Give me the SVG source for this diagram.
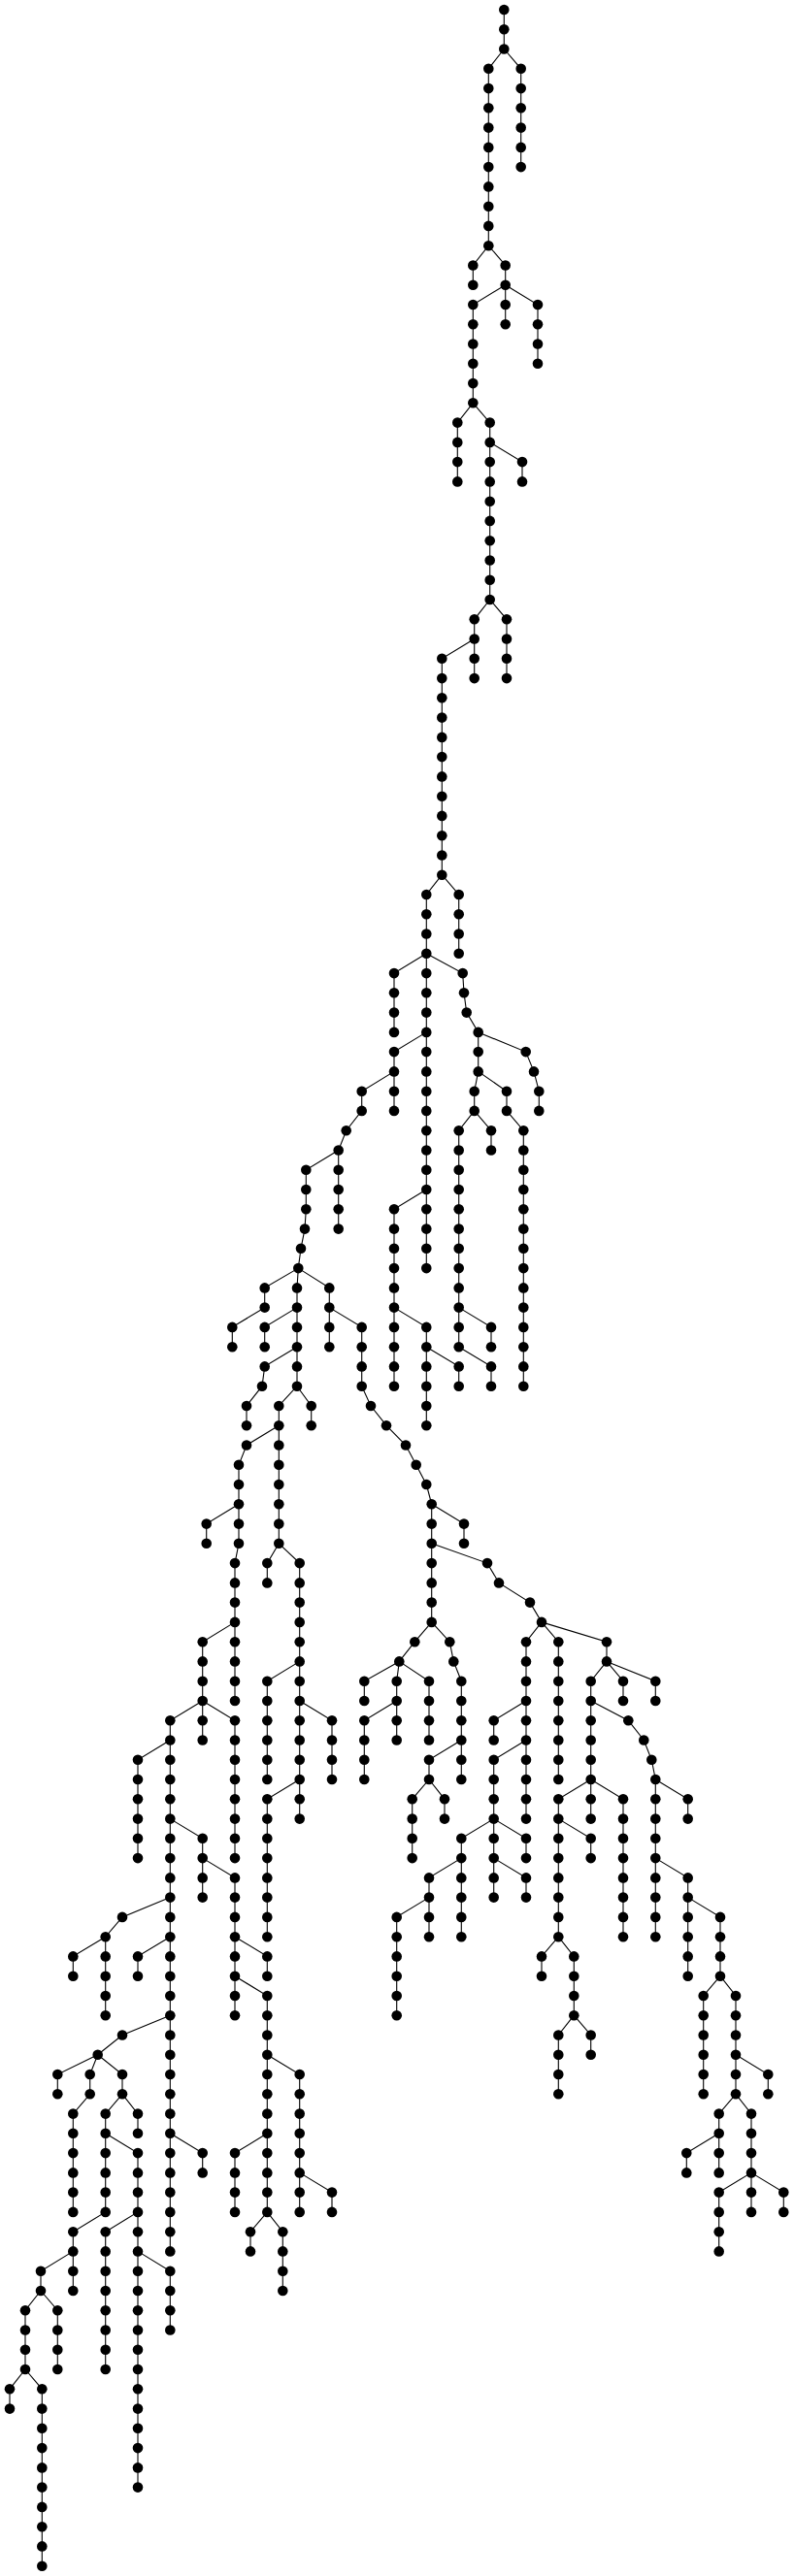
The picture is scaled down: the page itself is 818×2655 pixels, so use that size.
<svg xmlns="http://www.w3.org/2000/svg" width="818" height="2655" viewBox="0 0 818 2655">
<style>
.bg{fill:#fff}
#edges path{fill:none;stroke:#000;stroke-width:1.1}
#nodes circle{fill:#000;r:5.3px}
</style>
<rect class="bg" width="818" height="2655"/>
<g id="edges">
<path d="M519.3 10V50.5"/>
<path d="M519.3 50.5L536.7 70.8V172.1"/>
<path d="M519.3 50.5L503.3 70.8V253.2"/>
<path d="M503.3 253.2L487.3 273.5V293.7"/>
<path d="M503.3 253.2L520.7 273.5V293.7"/>
<path d="M520.7 293.7L487.3 314V415.3"/>
<path d="M520.7 293.7V334.3"/>
<path d="M520.7 293.7L554 314V374.8"/>
<path d="M487.3 415.3L471.3 435.6V496.4"/>
<path d="M487.3 415.3L504.7 435.6V618"/>
<path d="M504.7 455.9L538 476.1V496.4"/>
<path d="M504.7 618L488.7 638.3V699.1"/>
<path d="M504.7 618L522 638.3V699.1"/>
<path d="M488.7 658.5L455.3 678.8V901.7"/>
<path d="M455.3 901.7L439.3 922V982.8"/>
<path d="M455.3 901.7L472.7 922V982.8"/>
<path d="M439.3 982.8L406 1003.1V1063.9"/>
<path d="M439.3 982.8V1307.1"/>
<path d="M439.3 982.8L476.7 1003.1L478 1023.3L480.7 1043.6L492.7 1063.9V1104.4"/>
<path d="M492.7 1063.9L541.7 1084.1L550 1104.4L555.3 1124.7V1144.9"/>
<path d="M492.7 1104.4L488.7 1124.7V1144.9"/>
<path d="M492.7 1104.4L522 1124.7V1144.9"/>
<path d="M522 1144.9L539.3 1165.2V1428.7"/>
<path d="M488.7 1144.9L472.7 1165.2V1388.2"/>
<path d="M488.7 1144.9L506 1165.2V1185.5"/>
<path d="M472.7 1347.6L506 1367.9V1388.2"/>
<path d="M472.7 1388.2L506 1408.4V1428.7"/>
<path d="M439.3 1063.9L406 1084.1V1144.9"/>
<path d="M406 1104.4L372.7 1124.7V1144.9L356.7 1165.2L348.7 1185.5V1266.6"/>
<path d="M348.7 1185.5L315.3 1205.8V1246.3L314 1266.6L310 1286.8L307.3 1307.1"/>
<path d="M439.3 1226L406 1246.3V1428.7"/>
<path d="M406 1347.6L439.3 1367.9V1469.2"/>
<path d="M439.3 1388.2L472.7 1408.4V1428.7"/>
<path d="M307.3 1307.1L306 1327.4V1428.7"/>
<path d="M307.3 1307.1L339.3 1327.4V1388.2"/>
<path d="M339.3 1347.6L372.7 1367.9V1428.7L382 1449L398 1469.2L418 1489.5L428.7 1509.8L439.3 1530L444.7 1550.3V1671.9"/>
<path d="M307.3 1307.1L272.7 1327.4V1347.6L239.3 1367.9V1388.2"/>
<path d="M306 1347.6L272.7 1367.9V1388.2"/>
<path d="M306 1388.2L272.7 1408.4L270 1428.7L254 1449V1469.2"/>
<path d="M306 1428.7L287.3 1449V1590.8"/>
<path d="M306 1428.7L320.7 1449V1469.2"/>
<path d="M287.3 1469.2L254 1489.5L246 1509.8V1590.8L242 1611.1V1753"/>
<path d="M246 1550.3L212.7 1570.6V1590.8"/>
<path d="M287.3 1590.8L275.3 1611.1V1631.4"/>
<path d="M287.3 1590.8L308.7 1611.1V1874.6"/>
<path d="M242 1671.9L208.7 1692.2V1753"/>
<path d="M308.7 1712.4L275.3 1732.7V1834"/>
<path d="M308.7 1753L342 1773.2V1834"/>
<path d="M308.7 1834L275.3 1854.3V1996.2"/>
<path d="M208.7 1753L175.3 1773.2V2320.4"/>
<path d="M208.7 1753V1793.5"/>
<path d="M208.7 1753L242 1773.2V1915.1"/>
<path d="M175.3 1793.5L142 1813.8V1915.1"/>
<path d="M175.3 1874.6L208.7 1894.8V1955.6"/>
<path d="M208.7 1915.1L242 1935.4V2077.2"/>
<path d="M175.3 1955.6L126 1975.9L108.7 1996.2V2077.2"/>
<path d="M108.7 1996.2L75.3 2016.4V2036.7"/>
<path d="M175.3 1996.2L142 2016.4V2036.7"/>
<path d="M242 1996.2L275.3 2016.4V2036.7"/>
<path d="M242 2036.7L275.3 2057V2279.9"/>
<path d="M175.3 2077.2L126 2097.5L100.7 2117.8"/>
<path d="M100.7 2117.8L59.3 2138V2158.3"/>
<path d="M100.7 2117.8L92.7 2138V2158.3"/>
<path d="M100.7 2117.8L126 2138V2158.3"/>
<path d="M92.7 2158.3L75.3 2178.6V2279.9"/>
<path d="M126 2158.3L108.7 2178.6V2279.9"/>
<path d="M126 2158.3L142 2178.6V2198.8"/>
<path d="M108.7 2198.8L142 2219.1V2563.6"/>
<path d="M108.7 2279.9L75.3 2300.2V2361"/>
<path d="M142 2279.9L108.7 2300.2V2442"/>
<path d="M142 2320.4L175.3 2340.7V2401.5"/>
<path d="M75.3 2320.4L42 2340.7V2361"/>
<path d="M42 2361L26 2381.2V2442"/>
<path d="M42 2361L59.3 2381.2V2442"/>
<path d="M26 2442L10 2462.3V2482.6"/>
<path d="M26 2442L43.3 2462.3V2644.7"/>
<path d="M175.3 2198.8L208.7 2219.1V2239.4"/>
<path d="M275.3 2117.8L308.7 2138V2279.9"/>
<path d="M308.7 2239.4L342 2259.6V2279.9"/>
<path d="M275.3 2198.8L242 2219.1V2279.9"/>
<path d="M275.3 2279.9L258 2300.2V2320.4"/>
<path d="M275.3 2279.9L291.3 2300.2V2361"/>
<path d="M444.7 1671.9L427.3 1692.2L411.3 1712.4"/>
<path d="M444.7 1671.9L463.3 1692.2L467.3 1712.4L475.3 1732.7V1834"/>
<path d="M411.3 1712.4L375.3 1732.7V1753"/>
<path d="M411.3 1712.4L408.7 1732.7V1793.5"/>
<path d="M411.3 1712.4L442 1732.7V1793.5"/>
<path d="M408.7 1753L375.3 1773.2V1834"/>
<path d="M475.3 1793.5L442 1813.8V1834"/>
<path d="M442 1834L424.7 1854.3V1915.1"/>
<path d="M442 1834L458 1854.3V1874.6"/>
<path d="M444.7 1550.3L478 1570.6V1590.8"/>
<path d="M444.7 1590.8L502 1611.1L514 1631.4L546 1651.6L558 1671.9"/>
<path d="M558 1671.9L542 1692.2V1874.6"/>
<path d="M558 1671.9L575.3 1692.2V1834"/>
<path d="M558 1671.9L625 1692.2V1712.4"/>
<path d="M542 1753L508.7 1773.2V1793.5"/>
<path d="M542 1793.5L508.7 1813.8V1955.6"/>
<path d="M508.7 1874.6L475.3 1894.8V1996.2"/>
<path d="M508.7 1874.6L542 1894.8V1915.1"/>
<path d="M508.7 1915.1L542 1935.4V1955.6"/>
<path d="M475.3 1915.1L442 1935.4V1996.2"/>
<path d="M442 1955.6L408.7 1975.9V2077.2"/>
<path d="M625 1712.4L608.7 1732.7V1834"/>
<path d="M625 1712.4L642 1732.7V1753"/>
<path d="M625 1712.4L675.3 1732.7V1753"/>
<path d="M608.7 1753L647.3 1773.2L663.3 1793.5L671.3 1813.8L675.3 1834V1996.2"/>
<path d="M675.3 1834L708.7 1854.3V1874.6"/>
<path d="M608.7 1834L575.3 1854.3V1996.2"/>
<path d="M608.7 1834V1874.6"/>
<path d="M608.7 1834L642 1854.3V1996.2"/>
<path d="M575.3 1874.6L608.7 1894.8V1915.1"/>
<path d="M575.3 1996.2L558 2016.4V2036.7"/>
<path d="M575.3 1996.2L591.3 2016.4V2077.2"/>
<path d="M591.3 2077.2L575.3 2097.5V2158.3"/>
<path d="M591.3 2077.2L608.7 2097.5V2117.8"/>
<path d="M675.3 1915.1L708.7 1935.4V2036.7"/>
<path d="M708.7 1955.6L742 1975.9V2036.7"/>
<path d="M742 2036.7L724.7 2057V2158.3"/>
<path d="M742 2036.7L758 2057V2158.3"/>
<path d="M758 2117.8L791.3 2138V2158.3"/>
<path d="M758 2158.3L740.7 2178.6V2239.4"/>
<path d="M758 2158.3L774 2178.6V2239.4"/>
<path d="M740.7 2198.8L707.3 2219.1V2239.4"/>
<path d="M774 2239.4L740.7 2259.6V2320.4"/>
<path d="M774 2239.4V2279.9"/>
<path d="M774 2239.4L807.3 2259.6V2279.9"/>
</g>
<g id="nodes">
<g id="c1r0"><circle cx="519.3" cy="10"/></g><g id="c1r1"><circle cx="519.3" cy="30.3"/></g><g id="c1r2"><circle cx="519.3" cy="50.5"/></g>
<g id="c2r3"><circle cx="536.7" cy="70.8"/></g><g id="c2r4"><circle cx="536.7" cy="91.1"/></g><g id="c2r5"><circle cx="536.7" cy="111.3"/></g><g id="c2r6"><circle cx="536.7" cy="131.6"/></g><g id="c2r7"><circle cx="536.7" cy="151.9"/></g><g id="c2r8"><circle cx="536.7" cy="172.1"/></g>
<g id="c3r3"><circle cx="503.3" cy="70.8"/></g><g id="c3r4"><circle cx="503.3" cy="91.1"/></g><g id="c3r5"><circle cx="503.3" cy="111.3"/></g><g id="c3r6"><circle cx="503.3" cy="131.6"/></g><g id="c3r7"><circle cx="503.3" cy="151.9"/></g><g id="c3r8"><circle cx="503.3" cy="172.1"/></g><g id="c3r9"><circle cx="503.3" cy="192.4"/></g><g id="c3r10"><circle cx="503.3" cy="212.7"/></g><g id="c3r11"><circle cx="503.3" cy="232.9"/></g><g id="c3r12"><circle cx="503.3" cy="253.2"/></g>
<g id="c4r13"><circle cx="487.3" cy="273.5"/></g><g id="c4r14"><circle cx="487.3" cy="293.7"/></g>
<g id="c5r13"><circle cx="520.7" cy="273.5"/></g><g id="c5r14"><circle cx="520.7" cy="293.7"/></g>
<g id="c6r15"><circle cx="487.3" cy="314"/></g><g id="c6r16"><circle cx="487.3" cy="334.3"/></g><g id="c6r17"><circle cx="487.3" cy="354.5"/></g><g id="c6r18"><circle cx="487.3" cy="374.8"/></g><g id="c6r19"><circle cx="487.3" cy="395.1"/></g><g id="c6r20"><circle cx="487.3" cy="415.3"/></g>
<g id="c7r15"><circle cx="520.7" cy="314"/></g><g id="c7r16"><circle cx="520.7" cy="334.3"/></g>
<g id="c8r15"><circle cx="554" cy="314"/></g><g id="c8r16"><circle cx="554" cy="334.3"/></g><g id="c8r17"><circle cx="554" cy="354.5"/></g><g id="c8r18"><circle cx="554" cy="374.8"/></g>
<g id="c9r21"><circle cx="471.3" cy="435.6"/></g><g id="c9r22"><circle cx="471.3" cy="455.9"/></g><g id="c9r23"><circle cx="471.3" cy="476.1"/></g><g id="c9r24"><circle cx="471.3" cy="496.4"/></g>
<g id="c10r21"><circle cx="504.7" cy="435.6"/></g><g id="c10r22"><circle cx="504.7" cy="455.9"/></g><g id="c10r23"><circle cx="504.7" cy="476.1"/></g><g id="c10r24"><circle cx="504.7" cy="496.4"/></g><g id="c10r25"><circle cx="504.7" cy="516.7"/></g><g id="c10r26"><circle cx="504.7" cy="536.9"/></g><g id="c10r27"><circle cx="504.7" cy="557.2"/></g><g id="c10r28"><circle cx="504.7" cy="577.5"/></g><g id="c10r29"><circle cx="504.7" cy="597.7"/></g><g id="c10r30"><circle cx="504.7" cy="618"/></g>
<g id="c11r23"><circle cx="538" cy="476.1"/></g><g id="c11r24"><circle cx="538" cy="496.4"/></g>
<g id="c12r31"><circle cx="488.7" cy="638.3"/></g><g id="c12r32"><circle cx="488.7" cy="658.5"/></g><g id="c12r33"><circle cx="488.7" cy="678.8"/></g><g id="c12r34"><circle cx="488.7" cy="699.1"/></g>
<g id="c13r31"><circle cx="522" cy="638.3"/></g><g id="c13r32"><circle cx="522" cy="658.5"/></g><g id="c13r33"><circle cx="522" cy="678.8"/></g><g id="c13r34"><circle cx="522" cy="699.1"/></g>
<g id="c14r33"><circle cx="455.3" cy="678.8"/></g><g id="c14r34"><circle cx="455.3" cy="699.1"/></g><g id="c14r35"><circle cx="455.3" cy="719.3"/></g><g id="c14r36"><circle cx="455.3" cy="739.6"/></g><g id="c14r37"><circle cx="455.3" cy="759.9"/></g><g id="c14r38"><circle cx="455.3" cy="780.1"/></g><g id="c14r39"><circle cx="455.3" cy="800.4"/></g><g id="c14r40"><circle cx="455.3" cy="820.7"/></g><g id="c14r41"><circle cx="455.3" cy="840.9"/></g><g id="c14r42"><circle cx="455.3" cy="861.2"/></g><g id="c14r43"><circle cx="455.3" cy="881.5"/></g><g id="c14r44"><circle cx="455.3" cy="901.7"/></g>
<g id="c15r45"><circle cx="439.3" cy="922"/></g><g id="c15r46"><circle cx="439.3" cy="942.3"/></g><g id="c15r47"><circle cx="439.3" cy="962.5"/></g><g id="c15r48"><circle cx="439.3" cy="982.8"/></g>
<g id="c16r45"><circle cx="472.7" cy="922"/></g><g id="c16r46"><circle cx="472.7" cy="942.3"/></g><g id="c16r47"><circle cx="472.7" cy="962.5"/></g><g id="c16r48"><circle cx="472.7" cy="982.8"/></g>
<g id="c17r49"><circle cx="406" cy="1003.1"/></g><g id="c17r50"><circle cx="406" cy="1023.3"/></g><g id="c17r51"><circle cx="406" cy="1043.6"/></g><g id="c17r52"><circle cx="406" cy="1063.9"/></g>
<g id="c18r49"><circle cx="439.3" cy="1003.1"/></g><g id="c18r50"><circle cx="439.3" cy="1023.3"/></g><g id="c18r51"><circle cx="439.3" cy="1043.6"/></g><g id="c18r52"><circle cx="439.3" cy="1063.9"/></g><g id="c18r53"><circle cx="439.3" cy="1084.1"/></g><g id="c18r54"><circle cx="439.3" cy="1104.4"/></g><g id="c18r55"><circle cx="439.3" cy="1124.7"/></g><g id="c18r56"><circle cx="439.3" cy="1144.9"/></g><g id="c18r57"><circle cx="439.3" cy="1165.2"/></g><g id="c18r58"><circle cx="439.3" cy="1185.5"/></g><g id="c18r59"><circle cx="439.3" cy="1205.8"/></g><g id="c18r60"><circle cx="439.3" cy="1226"/></g><g id="c18r61"><circle cx="439.3" cy="1246.3"/></g><g id="c18r62"><circle cx="439.3" cy="1266.6"/></g><g id="c18r63"><circle cx="439.3" cy="1286.8"/></g><g id="c18r64"><circle cx="439.3" cy="1307.1"/></g>
<g id="c19r49"><circle cx="476.7" cy="1003.1"/></g><g id="c19r50"><circle cx="478" cy="1023.3"/></g><g id="c19r51"><circle cx="480.7" cy="1043.6"/></g><g id="c19r52"><circle cx="492.7" cy="1063.9"/></g><g id="c19r53"><circle cx="492.7" cy="1084.1"/></g><g id="c19r54"><circle cx="492.7" cy="1104.4"/></g>
<g id="c20r53"><circle cx="541.7" cy="1084.1"/></g><g id="c20r54"><circle cx="550" cy="1104.4"/></g><g id="c20r55"><circle cx="555.3" cy="1124.7"/></g><g id="c20r56"><circle cx="555.3" cy="1144.9"/></g>
<g id="c21r55"><circle cx="488.7" cy="1124.7"/></g><g id="c21r56"><circle cx="488.7" cy="1144.9"/></g>
<g id="c22r55"><circle cx="522" cy="1124.7"/></g><g id="c22r56"><circle cx="522" cy="1144.9"/></g>
<g id="c23r57"><circle cx="539.3" cy="1165.2"/></g><g id="c23r58"><circle cx="539.3" cy="1185.5"/></g><g id="c23r59"><circle cx="539.3" cy="1205.8"/></g><g id="c23r60"><circle cx="539.3" cy="1226"/></g><g id="c23r61"><circle cx="539.3" cy="1246.3"/></g><g id="c23r62"><circle cx="539.3" cy="1266.6"/></g><g id="c23r63"><circle cx="539.3" cy="1286.8"/></g><g id="c23r64"><circle cx="539.3" cy="1307.1"/></g><g id="c23r65"><circle cx="539.3" cy="1327.4"/></g><g id="c23r66"><circle cx="539.3" cy="1347.6"/></g><g id="c23r67"><circle cx="539.3" cy="1367.9"/></g><g id="c23r68"><circle cx="539.3" cy="1388.2"/></g><g id="c23r69"><circle cx="539.3" cy="1408.4"/></g><g id="c23r70"><circle cx="539.3" cy="1428.7"/></g>
<g id="c24r57"><circle cx="472.7" cy="1165.2"/></g><g id="c24r58"><circle cx="472.7" cy="1185.5"/></g><g id="c24r59"><circle cx="472.7" cy="1205.8"/></g><g id="c24r60"><circle cx="472.7" cy="1226"/></g><g id="c24r61"><circle cx="472.7" cy="1246.3"/></g><g id="c24r62"><circle cx="472.7" cy="1266.6"/></g><g id="c24r63"><circle cx="472.7" cy="1286.8"/></g><g id="c24r64"><circle cx="472.7" cy="1307.1"/></g><g id="c24r65"><circle cx="472.7" cy="1327.4"/></g><g id="c24r66"><circle cx="472.7" cy="1347.6"/></g><g id="c24r67"><circle cx="472.7" cy="1367.9"/></g><g id="c24r68"><circle cx="472.7" cy="1388.2"/></g>
<g id="c25r57"><circle cx="506" cy="1165.2"/></g><g id="c25r58"><circle cx="506" cy="1185.5"/></g>
<g id="c26r67"><circle cx="506" cy="1367.9"/></g><g id="c26r68"><circle cx="506" cy="1388.2"/></g>
<g id="c27r69"><circle cx="506" cy="1408.4"/></g><g id="c27r70"><circle cx="506" cy="1428.7"/></g>
<g id="c28r53"><circle cx="406" cy="1084.1"/></g><g id="c28r54"><circle cx="406" cy="1104.4"/></g><g id="c28r55"><circle cx="406" cy="1124.7"/></g><g id="c28r56"><circle cx="406" cy="1144.9"/></g>
<g id="c29r55"><circle cx="372.7" cy="1124.7"/></g><g id="c29r56"><circle cx="372.7" cy="1144.9"/></g><g id="c29r57"><circle cx="356.7" cy="1165.2"/></g><g id="c29r58"><circle cx="348.7" cy="1185.5"/></g><g id="c29r59"><circle cx="348.7" cy="1205.8"/></g><g id="c29r60"><circle cx="348.7" cy="1226"/></g><g id="c29r61"><circle cx="348.7" cy="1246.3"/></g><g id="c29r62"><circle cx="348.7" cy="1266.6"/></g>
<g id="c30r59"><circle cx="315.3" cy="1205.8"/></g><g id="c30r60"><circle cx="315.3" cy="1226"/></g><g id="c30r61"><circle cx="315.3" cy="1246.3"/></g><g id="c30r62"><circle cx="314" cy="1266.6"/></g><g id="c30r63"><circle cx="310" cy="1286.8"/></g><g id="c30r64"><circle cx="307.3" cy="1307.1"/></g>
<g id="c31r61"><circle cx="406" cy="1246.3"/></g><g id="c31r62"><circle cx="406" cy="1266.6"/></g><g id="c31r63"><circle cx="406" cy="1286.8"/></g><g id="c31r64"><circle cx="406" cy="1307.1"/></g><g id="c31r65"><circle cx="406" cy="1327.4"/></g><g id="c31r66"><circle cx="406" cy="1347.6"/></g><g id="c31r67"><circle cx="406" cy="1367.9"/></g><g id="c31r68"><circle cx="406" cy="1388.2"/></g><g id="c31r69"><circle cx="406" cy="1408.4"/></g><g id="c31r70"><circle cx="406" cy="1428.7"/></g>
<g id="c32r67"><circle cx="439.3" cy="1367.9"/></g><g id="c32r68"><circle cx="439.3" cy="1388.2"/></g><g id="c32r69"><circle cx="439.3" cy="1408.4"/></g><g id="c32r70"><circle cx="439.3" cy="1428.7"/></g><g id="c32r71"><circle cx="439.3" cy="1449"/></g><g id="c32r72"><circle cx="439.3" cy="1469.2"/></g>
<g id="c33r69"><circle cx="472.7" cy="1408.4"/></g><g id="c33r70"><circle cx="472.7" cy="1428.7"/></g>
<g id="c34r65"><circle cx="306" cy="1327.4"/></g><g id="c34r66"><circle cx="306" cy="1347.6"/></g><g id="c34r67"><circle cx="306" cy="1367.9"/></g><g id="c34r68"><circle cx="306" cy="1388.2"/></g><g id="c34r69"><circle cx="306" cy="1408.4"/></g><g id="c34r70"><circle cx="306" cy="1428.7"/></g>
<g id="c35r65"><circle cx="339.3" cy="1327.4"/></g><g id="c35r66"><circle cx="339.3" cy="1347.6"/></g><g id="c35r67"><circle cx="339.3" cy="1367.9"/></g><g id="c35r68"><circle cx="339.3" cy="1388.2"/></g>
<g id="c36r67"><circle cx="372.7" cy="1367.9"/></g><g id="c36r68"><circle cx="372.7" cy="1388.2"/></g><g id="c36r69"><circle cx="372.7" cy="1408.4"/></g><g id="c36r70"><circle cx="372.7" cy="1428.7"/></g><g id="c36r71"><circle cx="382" cy="1449"/></g><g id="c36r72"><circle cx="398" cy="1469.2"/></g><g id="c36r73"><circle cx="418" cy="1489.5"/></g><g id="c36r74"><circle cx="428.7" cy="1509.8"/></g><g id="c36r75"><circle cx="439.3" cy="1530"/></g><g id="c36r76"><circle cx="444.7" cy="1550.3"/></g><g id="c36r77"><circle cx="444.7" cy="1570.6"/></g><g id="c36r78"><circle cx="444.7" cy="1590.8"/></g><g id="c36r79"><circle cx="444.7" cy="1611.1"/></g><g id="c36r80"><circle cx="444.7" cy="1631.4"/></g><g id="c36r81"><circle cx="444.7" cy="1651.6"/></g><g id="c36r82"><circle cx="444.7" cy="1671.9"/></g>
<g id="c37r65"><circle cx="272.7" cy="1327.4"/></g><g id="c37r66"><circle cx="272.7" cy="1347.6"/></g><g id="c38r67"><circle cx="239.3" cy="1367.9"/></g><g id="c38r68"><circle cx="239.3" cy="1388.2"/></g>
<g id="c39r67"><circle cx="272.7" cy="1367.9"/></g><g id="c39r68"><circle cx="272.7" cy="1388.2"/></g>
<g id="c40r69"><circle cx="272.7" cy="1408.4"/></g><g id="c40r70"><circle cx="270" cy="1428.7"/></g><g id="c40r71"><circle cx="254" cy="1449"/></g><g id="c40r72"><circle cx="254" cy="1469.2"/></g>
<g id="c41r71"><circle cx="287.3" cy="1449"/></g><g id="c41r72"><circle cx="287.3" cy="1469.2"/></g><g id="c41r73"><circle cx="287.3" cy="1489.5"/></g><g id="c41r74"><circle cx="287.3" cy="1509.8"/></g><g id="c41r75"><circle cx="287.3" cy="1530"/></g><g id="c41r76"><circle cx="287.3" cy="1550.3"/></g><g id="c41r77"><circle cx="287.3" cy="1570.6"/></g><g id="c41r78"><circle cx="287.3" cy="1590.8"/></g>
<g id="c42r71"><circle cx="320.7" cy="1449"/></g><g id="c42r72"><circle cx="320.7" cy="1469.2"/></g>
<g id="c43r73"><circle cx="254" cy="1489.5"/></g><g id="c43r74"><circle cx="246" cy="1509.8"/></g><g id="c43r75"><circle cx="246" cy="1530"/></g><g id="c43r76"><circle cx="246" cy="1550.3"/></g><g id="c43r77"><circle cx="246" cy="1570.6"/></g><g id="c43r78"><circle cx="246" cy="1590.8"/></g><g id="c43r79"><circle cx="242" cy="1611.1"/></g><g id="c43r80"><circle cx="242" cy="1631.4"/></g><g id="c43r81"><circle cx="242" cy="1651.6"/></g><g id="c43r82"><circle cx="242" cy="1671.9"/></g><g id="c43r83"><circle cx="242" cy="1692.2"/></g><g id="c43r84"><circle cx="242" cy="1712.4"/></g><g id="c43r85"><circle cx="242" cy="1732.7"/></g><g id="c43r86"><circle cx="242" cy="1753"/></g>
<g id="c44r77"><circle cx="212.7" cy="1570.6"/></g><g id="c44r78"><circle cx="212.7" cy="1590.8"/></g>
<g id="c45r79"><circle cx="275.3" cy="1611.1"/></g><g id="c45r80"><circle cx="275.3" cy="1631.4"/></g>
<g id="c46r79"><circle cx="308.7" cy="1611.1"/></g><g id="c46r80"><circle cx="308.7" cy="1631.4"/></g><g id="c46r81"><circle cx="308.7" cy="1651.6"/></g><g id="c46r82"><circle cx="308.7" cy="1671.9"/></g><g id="c46r83"><circle cx="308.7" cy="1692.2"/></g><g id="c46r84"><circle cx="308.7" cy="1712.4"/></g><g id="c46r85"><circle cx="308.7" cy="1732.7"/></g><g id="c46r86"><circle cx="308.7" cy="1753"/></g><g id="c46r87"><circle cx="308.7" cy="1773.2"/></g><g id="c46r88"><circle cx="308.7" cy="1793.5"/></g><g id="c46r89"><circle cx="308.7" cy="1813.8"/></g><g id="c46r90"><circle cx="308.7" cy="1834"/></g><g id="c46r91"><circle cx="308.7" cy="1854.3"/></g><g id="c46r92"><circle cx="308.7" cy="1874.6"/></g>
<g id="c47r83"><circle cx="208.7" cy="1692.2"/></g><g id="c47r84"><circle cx="208.7" cy="1712.4"/></g><g id="c47r85"><circle cx="208.7" cy="1732.7"/></g><g id="c47r86"><circle cx="208.7" cy="1753"/></g>
<g id="c48r85"><circle cx="275.3" cy="1732.7"/></g><g id="c48r86"><circle cx="275.3" cy="1753"/></g><g id="c48r87"><circle cx="275.3" cy="1773.2"/></g><g id="c48r88"><circle cx="275.3" cy="1793.5"/></g><g id="c48r89"><circle cx="275.3" cy="1813.8"/></g><g id="c48r90"><circle cx="275.3" cy="1834"/></g>
<g id="c49r87"><circle cx="342" cy="1773.2"/></g><g id="c49r88"><circle cx="342" cy="1793.5"/></g><g id="c49r89"><circle cx="342" cy="1813.8"/></g><g id="c49r90"><circle cx="342" cy="1834"/></g>
<g id="c50r91"><circle cx="275.3" cy="1854.3"/></g><g id="c50r92"><circle cx="275.3" cy="1874.6"/></g><g id="c50r93"><circle cx="275.3" cy="1894.8"/></g><g id="c50r94"><circle cx="275.3" cy="1915.1"/></g><g id="c50r95"><circle cx="275.3" cy="1935.4"/></g><g id="c50r96"><circle cx="275.3" cy="1955.6"/></g><g id="c50r97"><circle cx="275.3" cy="1975.9"/></g><g id="c50r98"><circle cx="275.3" cy="1996.2"/></g>
<g id="c51r87"><circle cx="175.3" cy="1773.2"/></g><g id="c51r88"><circle cx="175.3" cy="1793.5"/></g><g id="c51r89"><circle cx="175.3" cy="1813.8"/></g><g id="c51r90"><circle cx="175.3" cy="1834"/></g><g id="c51r91"><circle cx="175.3" cy="1854.3"/></g><g id="c51r92"><circle cx="175.3" cy="1874.6"/></g><g id="c51r93"><circle cx="175.3" cy="1894.8"/></g><g id="c51r94"><circle cx="175.3" cy="1915.1"/></g><g id="c51r95"><circle cx="175.3" cy="1935.4"/></g><g id="c51r96"><circle cx="175.3" cy="1955.6"/></g><g id="c51r97"><circle cx="175.3" cy="1975.9"/></g><g id="c51r98"><circle cx="175.3" cy="1996.2"/></g><g id="c51r99"><circle cx="175.3" cy="2016.4"/></g><g id="c51r100"><circle cx="175.3" cy="2036.7"/></g><g id="c51r101"><circle cx="175.3" cy="2057"/></g><g id="c51r102"><circle cx="175.3" cy="2077.2"/></g><g id="c51r103"><circle cx="175.3" cy="2097.5"/></g><g id="c51r104"><circle cx="175.3" cy="2117.8"/></g><g id="c51r105"><circle cx="175.3" cy="2138"/></g><g id="c51r106"><circle cx="175.3" cy="2158.3"/></g><g id="c51r107"><circle cx="175.3" cy="2178.6"/></g><g id="c51r108"><circle cx="175.3" cy="2198.8"/></g><g id="c51r109"><circle cx="175.3" cy="2219.1"/></g><g id="c51r110"><circle cx="175.3" cy="2239.4"/></g><g id="c51r111"><circle cx="175.3" cy="2259.6"/></g><g id="c51r112"><circle cx="175.3" cy="2279.9"/></g><g id="c51r113"><circle cx="175.3" cy="2300.2"/></g><g id="c51r114"><circle cx="175.3" cy="2320.4"/></g>
<g id="c52r87"><circle cx="208.7" cy="1773.2"/></g><g id="c52r88"><circle cx="208.7" cy="1793.5"/></g>
<g id="c53r87"><circle cx="242" cy="1773.2"/></g><g id="c53r88"><circle cx="242" cy="1793.5"/></g><g id="c53r89"><circle cx="242" cy="1813.8"/></g><g id="c53r90"><circle cx="242" cy="1834"/></g><g id="c53r91"><circle cx="242" cy="1854.3"/></g><g id="c53r92"><circle cx="242" cy="1874.6"/></g><g id="c53r93"><circle cx="242" cy="1894.8"/></g><g id="c53r94"><circle cx="242" cy="1915.1"/></g>
<g id="c54r89"><circle cx="142" cy="1813.8"/></g><g id="c54r90"><circle cx="142" cy="1834"/></g><g id="c54r91"><circle cx="142" cy="1854.3"/></g><g id="c54r92"><circle cx="142" cy="1874.6"/></g><g id="c54r93"><circle cx="142" cy="1894.8"/></g><g id="c54r94"><circle cx="142" cy="1915.1"/></g>
<g id="c55r93"><circle cx="208.7" cy="1894.8"/></g><g id="c55r94"><circle cx="208.7" cy="1915.1"/></g><g id="c55r95"><circle cx="208.7" cy="1935.4"/></g><g id="c55r96"><circle cx="208.7" cy="1955.6"/></g>
<g id="c56r95"><circle cx="242" cy="1935.4"/></g><g id="c56r96"><circle cx="242" cy="1955.6"/></g><g id="c56r97"><circle cx="242" cy="1975.9"/></g><g id="c56r98"><circle cx="242" cy="1996.2"/></g><g id="c56r99"><circle cx="242" cy="2016.4"/></g><g id="c56r100"><circle cx="242" cy="2036.7"/></g><g id="c56r101"><circle cx="242" cy="2057"/></g><g id="c56r102"><circle cx="242" cy="2077.2"/></g>
<g id="c57r97"><circle cx="126" cy="1975.9"/></g><g id="c57r98"><circle cx="108.7" cy="1996.2"/></g><g id="c57r99"><circle cx="108.7" cy="2016.4"/></g><g id="c57r100"><circle cx="108.7" cy="2036.7"/></g><g id="c57r101"><circle cx="108.7" cy="2057"/></g><g id="c57r102"><circle cx="108.7" cy="2077.2"/></g>
<g id="c58r99"><circle cx="75.3" cy="2016.4"/></g><g id="c58r100"><circle cx="75.3" cy="2036.7"/></g>
<g id="c59r99"><circle cx="142" cy="2016.4"/></g><g id="c59r100"><circle cx="142" cy="2036.7"/></g>
<g id="c60r99"><circle cx="275.3" cy="2016.4"/></g><g id="c60r100"><circle cx="275.3" cy="2036.7"/></g>
<g id="c61r101"><circle cx="275.3" cy="2057"/></g><g id="c61r102"><circle cx="275.3" cy="2077.2"/></g><g id="c61r103"><circle cx="275.3" cy="2097.5"/></g><g id="c61r104"><circle cx="275.3" cy="2117.8"/></g><g id="c61r105"><circle cx="275.3" cy="2138"/></g><g id="c61r106"><circle cx="275.3" cy="2158.3"/></g><g id="c61r107"><circle cx="275.3" cy="2178.6"/></g><g id="c61r108"><circle cx="275.3" cy="2198.8"/></g><g id="c61r109"><circle cx="275.3" cy="2219.1"/></g><g id="c61r110"><circle cx="275.3" cy="2239.4"/></g><g id="c61r111"><circle cx="275.3" cy="2259.6"/></g><g id="c61r112"><circle cx="275.3" cy="2279.9"/></g>
<g id="c62r103"><circle cx="126" cy="2097.5"/></g><g id="c62r104"><circle cx="100.7" cy="2117.8"/></g>
<g id="c64r105"><circle cx="59.3" cy="2138"/></g><g id="c64r106"><circle cx="59.3" cy="2158.3"/></g>
<g id="c65r105"><circle cx="92.7" cy="2138"/></g><g id="c65r106"><circle cx="92.7" cy="2158.3"/></g>
<g id="c66r105"><circle cx="126" cy="2138"/></g><g id="c66r106"><circle cx="126" cy="2158.3"/></g>
<g id="c67r107"><circle cx="75.3" cy="2178.6"/></g><g id="c67r108"><circle cx="75.3" cy="2198.8"/></g><g id="c67r109"><circle cx="75.3" cy="2219.1"/></g><g id="c67r110"><circle cx="75.3" cy="2239.4"/></g><g id="c67r111"><circle cx="75.3" cy="2259.6"/></g><g id="c67r112"><circle cx="75.3" cy="2279.9"/></g>
<g id="c68r107"><circle cx="108.7" cy="2178.6"/></g><g id="c68r108"><circle cx="108.7" cy="2198.8"/></g><g id="c68r109"><circle cx="108.7" cy="2219.1"/></g><g id="c68r110"><circle cx="108.7" cy="2239.4"/></g><g id="c68r111"><circle cx="108.7" cy="2259.6"/></g><g id="c68r112"><circle cx="108.7" cy="2279.9"/></g>
<g id="c69r107"><circle cx="142" cy="2178.6"/></g><g id="c69r108"><circle cx="142" cy="2198.8"/></g>
<g id="c70r109"><circle cx="142" cy="2219.1"/></g><g id="c70r110"><circle cx="142" cy="2239.4"/></g><g id="c70r111"><circle cx="142" cy="2259.6"/></g><g id="c70r112"><circle cx="142" cy="2279.9"/></g><g id="c70r113"><circle cx="142" cy="2300.2"/></g><g id="c70r114"><circle cx="142" cy="2320.4"/></g><g id="c70r115"><circle cx="142" cy="2340.7"/></g><g id="c70r116"><circle cx="142" cy="2361"/></g><g id="c70r117"><circle cx="142" cy="2381.2"/></g><g id="c70r118"><circle cx="142" cy="2401.5"/></g><g id="c70r119"><circle cx="142" cy="2421.8"/></g><g id="c70r120"><circle cx="142" cy="2442"/></g><g id="c70r121"><circle cx="142" cy="2462.3"/></g><g id="c70r122"><circle cx="142" cy="2482.6"/></g><g id="c70r123"><circle cx="142" cy="2502.8"/></g><g id="c70r124"><circle cx="142" cy="2523.1"/></g><g id="c70r125"><circle cx="142" cy="2543.4"/></g><g id="c70r126"><circle cx="142" cy="2563.6"/></g>
<g id="c71r113"><circle cx="75.3" cy="2300.2"/></g><g id="c71r114"><circle cx="75.3" cy="2320.4"/></g><g id="c71r115"><circle cx="75.3" cy="2340.7"/></g><g id="c71r116"><circle cx="75.3" cy="2361"/></g>
<g id="c72r113"><circle cx="108.7" cy="2300.2"/></g><g id="c72r114"><circle cx="108.7" cy="2320.4"/></g><g id="c72r115"><circle cx="108.7" cy="2340.7"/></g><g id="c72r116"><circle cx="108.7" cy="2361"/></g><g id="c72r117"><circle cx="108.7" cy="2381.2"/></g><g id="c72r118"><circle cx="108.7" cy="2401.5"/></g><g id="c72r119"><circle cx="108.7" cy="2421.8"/></g><g id="c72r120"><circle cx="108.7" cy="2442"/></g>
<g id="c73r115"><circle cx="175.3" cy="2340.7"/></g><g id="c73r116"><circle cx="175.3" cy="2361"/></g><g id="c73r117"><circle cx="175.3" cy="2381.2"/></g><g id="c73r118"><circle cx="175.3" cy="2401.5"/></g>
<g id="c74r115"><circle cx="42" cy="2340.7"/></g><g id="c74r116"><circle cx="42" cy="2361"/></g>
<g id="c75r117"><circle cx="26" cy="2381.2"/></g><g id="c75r118"><circle cx="26" cy="2401.5"/></g><g id="c75r119"><circle cx="26" cy="2421.8"/></g><g id="c75r120"><circle cx="26" cy="2442"/></g>
<g id="c76r117"><circle cx="59.3" cy="2381.2"/></g><g id="c76r118"><circle cx="59.3" cy="2401.5"/></g><g id="c76r119"><circle cx="59.3" cy="2421.8"/></g><g id="c76r120"><circle cx="59.3" cy="2442"/></g>
<g id="c77r121"><circle cx="10" cy="2462.3"/></g><g id="c77r122"><circle cx="10" cy="2482.6"/></g>
<g id="c78r121"><circle cx="43.3" cy="2462.3"/></g><g id="c78r122"><circle cx="43.3" cy="2482.6"/></g><g id="c78r123"><circle cx="43.3" cy="2502.8"/></g><g id="c78r124"><circle cx="43.3" cy="2523.1"/></g><g id="c78r125"><circle cx="43.3" cy="2543.4"/></g><g id="c78r126"><circle cx="43.3" cy="2563.6"/></g><g id="c78r127"><circle cx="43.3" cy="2583.9"/></g><g id="c78r128"><circle cx="43.3" cy="2604.2"/></g><g id="c78r129"><circle cx="43.3" cy="2624.4"/></g><g id="c78r130"><circle cx="43.3" cy="2644.7"/></g>
<g id="c79r109"><circle cx="208.7" cy="2219.1"/></g><g id="c79r110"><circle cx="208.7" cy="2239.4"/></g>
<g id="c80r105"><circle cx="308.7" cy="2138"/></g><g id="c80r106"><circle cx="308.7" cy="2158.3"/></g><g id="c80r107"><circle cx="308.7" cy="2178.6"/></g><g id="c80r108"><circle cx="308.7" cy="2198.8"/></g><g id="c80r109"><circle cx="308.7" cy="2219.1"/></g><g id="c80r110"><circle cx="308.7" cy="2239.4"/></g><g id="c80r111"><circle cx="308.7" cy="2259.6"/></g><g id="c80r112"><circle cx="308.7" cy="2279.9"/></g>
<g id="c81r111"><circle cx="342" cy="2259.6"/></g><g id="c81r112"><circle cx="342" cy="2279.9"/></g>
<g id="c82r109"><circle cx="242" cy="2219.1"/></g><g id="c82r110"><circle cx="242" cy="2239.4"/></g><g id="c82r111"><circle cx="242" cy="2259.6"/></g><g id="c82r112"><circle cx="242" cy="2279.9"/></g>
<g id="c83r113"><circle cx="258" cy="2300.2"/></g><g id="c83r114"><circle cx="258" cy="2320.4"/></g>
<g id="c84r113"><circle cx="291.3" cy="2300.2"/></g><g id="c84r114"><circle cx="291.3" cy="2320.4"/></g><g id="c84r115"><circle cx="291.3" cy="2340.7"/></g><g id="c84r116"><circle cx="291.3" cy="2361"/></g>
<g id="c85r83"><circle cx="427.3" cy="1692.2"/></g><g id="c85r84"><circle cx="411.3" cy="1712.4"/></g>
<g id="c86r83"><circle cx="463.3" cy="1692.2"/></g><g id="c86r84"><circle cx="467.3" cy="1712.4"/></g><g id="c86r85"><circle cx="475.3" cy="1732.7"/></g><g id="c86r86"><circle cx="475.3" cy="1753"/></g><g id="c86r87"><circle cx="475.3" cy="1773.2"/></g><g id="c86r88"><circle cx="475.3" cy="1793.5"/></g><g id="c86r89"><circle cx="475.3" cy="1813.8"/></g><g id="c86r90"><circle cx="475.3" cy="1834"/></g>
<g id="c87r85"><circle cx="375.3" cy="1732.7"/></g><g id="c87r86"><circle cx="375.3" cy="1753"/></g>
<g id="c88r85"><circle cx="408.7" cy="1732.7"/></g><g id="c88r86"><circle cx="408.7" cy="1753"/></g><g id="c88r87"><circle cx="408.7" cy="1773.2"/></g><g id="c88r88"><circle cx="408.7" cy="1793.5"/></g>
<g id="c89r85"><circle cx="442" cy="1732.7"/></g><g id="c89r86"><circle cx="442" cy="1753"/></g><g id="c89r87"><circle cx="442" cy="1773.2"/></g><g id="c89r88"><circle cx="442" cy="1793.5"/></g>
<g id="c90r87"><circle cx="375.3" cy="1773.2"/></g><g id="c90r88"><circle cx="375.3" cy="1793.5"/></g><g id="c90r89"><circle cx="375.3" cy="1813.8"/></g><g id="c90r90"><circle cx="375.3" cy="1834"/></g>
<g id="c91r89"><circle cx="442" cy="1813.8"/></g><g id="c91r90"><circle cx="442" cy="1834"/></g>
<g id="c92r91"><circle cx="424.7" cy="1854.3"/></g><g id="c92r92"><circle cx="424.7" cy="1874.6"/></g><g id="c92r93"><circle cx="424.7" cy="1894.8"/></g><g id="c92r94"><circle cx="424.7" cy="1915.1"/></g>
<g id="c93r91"><circle cx="458" cy="1854.3"/></g><g id="c93r92"><circle cx="458" cy="1874.6"/></g>
<g id="c94r77"><circle cx="478" cy="1570.6"/></g><g id="c94r78"><circle cx="478" cy="1590.8"/></g>
<g id="c95r79"><circle cx="502" cy="1611.1"/></g><g id="c95r80"><circle cx="514" cy="1631.4"/></g><g id="c95r81"><circle cx="546" cy="1651.6"/></g><g id="c95r82"><circle cx="558" cy="1671.9"/></g>
<g id="c96r83"><circle cx="542" cy="1692.2"/></g><g id="c96r84"><circle cx="542" cy="1712.4"/></g><g id="c96r85"><circle cx="542" cy="1732.7"/></g><g id="c96r86"><circle cx="542" cy="1753"/></g><g id="c96r87"><circle cx="542" cy="1773.2"/></g><g id="c96r88"><circle cx="542" cy="1793.5"/></g><g id="c96r89"><circle cx="542" cy="1813.8"/></g><g id="c96r90"><circle cx="542" cy="1834"/></g><g id="c96r91"><circle cx="542" cy="1854.3"/></g><g id="c96r92"><circle cx="542" cy="1874.6"/></g>
<g id="c97r83"><circle cx="575.3" cy="1692.2"/></g><g id="c97r84"><circle cx="575.3" cy="1712.4"/></g><g id="c97r85"><circle cx="575.3" cy="1732.7"/></g><g id="c97r86"><circle cx="575.3" cy="1753"/></g><g id="c97r87"><circle cx="575.3" cy="1773.2"/></g><g id="c97r88"><circle cx="575.3" cy="1793.5"/></g><g id="c97r89"><circle cx="575.3" cy="1813.8"/></g><g id="c97r90"><circle cx="575.3" cy="1834"/></g>
<g id="c98r83"><circle cx="625" cy="1692.2"/></g><g id="c98r84"><circle cx="625" cy="1712.4"/></g>
<g id="c99r87"><circle cx="508.7" cy="1773.2"/></g><g id="c99r88"><circle cx="508.7" cy="1793.5"/></g>
<g id="c100r89"><circle cx="508.7" cy="1813.8"/></g><g id="c100r90"><circle cx="508.7" cy="1834"/></g><g id="c100r91"><circle cx="508.7" cy="1854.3"/></g><g id="c100r92"><circle cx="508.7" cy="1874.6"/></g><g id="c100r93"><circle cx="508.7" cy="1894.8"/></g><g id="c100r94"><circle cx="508.7" cy="1915.1"/></g><g id="c100r95"><circle cx="508.7" cy="1935.4"/></g><g id="c100r96"><circle cx="508.7" cy="1955.6"/></g>
<g id="c101r93"><circle cx="475.3" cy="1894.8"/></g><g id="c101r94"><circle cx="475.3" cy="1915.1"/></g><g id="c101r95"><circle cx="475.3" cy="1935.4"/></g><g id="c101r96"><circle cx="475.3" cy="1955.6"/></g><g id="c101r97"><circle cx="475.3" cy="1975.9"/></g><g id="c101r98"><circle cx="475.3" cy="1996.2"/></g>
<g id="c102r93"><circle cx="542" cy="1894.8"/></g><g id="c102r94"><circle cx="542" cy="1915.1"/></g>
<g id="c103r95"><circle cx="542" cy="1935.4"/></g><g id="c103r96"><circle cx="542" cy="1955.6"/></g>
<g id="c104r95"><circle cx="442" cy="1935.4"/></g><g id="c104r96"><circle cx="442" cy="1955.6"/></g><g id="c104r97"><circle cx="442" cy="1975.9"/></g><g id="c104r98"><circle cx="442" cy="1996.2"/></g>
<g id="c105r97"><circle cx="408.7" cy="1975.9"/></g><g id="c105r98"><circle cx="408.7" cy="1996.2"/></g><g id="c105r99"><circle cx="408.7" cy="2016.4"/></g><g id="c105r100"><circle cx="408.7" cy="2036.7"/></g><g id="c105r101"><circle cx="408.7" cy="2057"/></g><g id="c105r102"><circle cx="408.7" cy="2077.2"/></g>
<g id="c106r85"><circle cx="608.7" cy="1732.7"/></g><g id="c106r86"><circle cx="608.7" cy="1753"/></g><g id="c106r87"><circle cx="608.7" cy="1773.2"/></g><g id="c106r88"><circle cx="608.7" cy="1793.5"/></g><g id="c106r89"><circle cx="608.7" cy="1813.8"/></g><g id="c106r90"><circle cx="608.7" cy="1834"/></g>
<g id="c107r85"><circle cx="642" cy="1732.7"/></g><g id="c107r86"><circle cx="642" cy="1753"/></g>
<g id="c108r85"><circle cx="675.3" cy="1732.7"/></g><g id="c108r86"><circle cx="675.3" cy="1753"/></g>
<g id="c109r87"><circle cx="647.3" cy="1773.2"/></g><g id="c109r88"><circle cx="663.3" cy="1793.5"/></g><g id="c109r89"><circle cx="671.3" cy="1813.8"/></g><g id="c109r90"><circle cx="675.3" cy="1834"/></g><g id="c109r91"><circle cx="675.3" cy="1854.3"/></g><g id="c109r92"><circle cx="675.3" cy="1874.6"/></g><g id="c109r93"><circle cx="675.3" cy="1894.8"/></g><g id="c109r94"><circle cx="675.3" cy="1915.1"/></g><g id="c109r95"><circle cx="675.3" cy="1935.4"/></g><g id="c109r96"><circle cx="675.3" cy="1955.6"/></g><g id="c109r97"><circle cx="675.3" cy="1975.9"/></g><g id="c109r98"><circle cx="675.3" cy="1996.2"/></g>
<g id="c110r91"><circle cx="708.7" cy="1854.3"/></g><g id="c110r92"><circle cx="708.7" cy="1874.6"/></g>
<g id="c111r91"><circle cx="575.3" cy="1854.3"/></g><g id="c111r92"><circle cx="575.3" cy="1874.6"/></g><g id="c111r93"><circle cx="575.3" cy="1894.8"/></g><g id="c111r94"><circle cx="575.3" cy="1915.1"/></g><g id="c111r95"><circle cx="575.3" cy="1935.4"/></g><g id="c111r96"><circle cx="575.3" cy="1955.6"/></g><g id="c111r97"><circle cx="575.3" cy="1975.9"/></g><g id="c111r98"><circle cx="575.3" cy="1996.2"/></g>
<g id="c112r91"><circle cx="608.7" cy="1854.3"/></g><g id="c112r92"><circle cx="608.7" cy="1874.6"/></g>
<g id="c113r91"><circle cx="642" cy="1854.3"/></g><g id="c113r92"><circle cx="642" cy="1874.6"/></g><g id="c113r93"><circle cx="642" cy="1894.8"/></g><g id="c113r94"><circle cx="642" cy="1915.1"/></g><g id="c113r95"><circle cx="642" cy="1935.4"/></g><g id="c113r96"><circle cx="642" cy="1955.6"/></g><g id="c113r97"><circle cx="642" cy="1975.9"/></g><g id="c113r98"><circle cx="642" cy="1996.2"/></g>
<g id="c114r93"><circle cx="608.7" cy="1894.8"/></g><g id="c114r94"><circle cx="608.7" cy="1915.1"/></g>
<g id="c115r99"><circle cx="558" cy="2016.4"/></g><g id="c115r100"><circle cx="558" cy="2036.7"/></g>
<g id="c116r99"><circle cx="591.3" cy="2016.4"/></g><g id="c116r100"><circle cx="591.3" cy="2036.7"/></g><g id="c116r101"><circle cx="591.3" cy="2057"/></g><g id="c116r102"><circle cx="591.3" cy="2077.2"/></g>
<g id="c117r103"><circle cx="575.3" cy="2097.5"/></g><g id="c117r104"><circle cx="575.3" cy="2117.8"/></g><g id="c117r105"><circle cx="575.3" cy="2138"/></g><g id="c117r106"><circle cx="575.3" cy="2158.3"/></g>
<g id="c118r103"><circle cx="608.7" cy="2097.5"/></g><g id="c118r104"><circle cx="608.7" cy="2117.8"/></g>
<g id="c119r95"><circle cx="708.7" cy="1935.4"/></g><g id="c119r96"><circle cx="708.7" cy="1955.6"/></g><g id="c119r97"><circle cx="708.7" cy="1975.9"/></g><g id="c119r98"><circle cx="708.7" cy="1996.2"/></g><g id="c119r99"><circle cx="708.7" cy="2016.4"/></g><g id="c119r100"><circle cx="708.7" cy="2036.7"/></g>
<g id="c120r97"><circle cx="742" cy="1975.9"/></g><g id="c120r98"><circle cx="742" cy="1996.2"/></g><g id="c120r99"><circle cx="742" cy="2016.4"/></g><g id="c120r100"><circle cx="742" cy="2036.7"/></g>
<g id="c121r101"><circle cx="724.7" cy="2057"/></g><g id="c121r102"><circle cx="724.7" cy="2077.2"/></g><g id="c121r103"><circle cx="724.7" cy="2097.5"/></g><g id="c121r104"><circle cx="724.7" cy="2117.8"/></g><g id="c121r105"><circle cx="724.7" cy="2138"/></g><g id="c121r106"><circle cx="724.7" cy="2158.3"/></g>
<g id="c122r101"><circle cx="758" cy="2057"/></g><g id="c122r102"><circle cx="758" cy="2077.2"/></g><g id="c122r103"><circle cx="758" cy="2097.5"/></g><g id="c122r104"><circle cx="758" cy="2117.8"/></g><g id="c122r105"><circle cx="758" cy="2138"/></g><g id="c122r106"><circle cx="758" cy="2158.3"/></g>
<g id="c123r105"><circle cx="791.3" cy="2138"/></g><g id="c123r106"><circle cx="791.3" cy="2158.3"/></g>
<g id="c124r107"><circle cx="740.7" cy="2178.6"/></g><g id="c124r108"><circle cx="740.7" cy="2198.8"/></g><g id="c124r109"><circle cx="740.7" cy="2219.1"/></g><g id="c124r110"><circle cx="740.7" cy="2239.4"/></g>
<g id="c125r107"><circle cx="774" cy="2178.6"/></g><g id="c125r108"><circle cx="774" cy="2198.8"/></g><g id="c125r109"><circle cx="774" cy="2219.1"/></g><g id="c125r110"><circle cx="774" cy="2239.4"/></g>
<g id="c126r109"><circle cx="707.3" cy="2219.1"/></g><g id="c126r110"><circle cx="707.3" cy="2239.4"/></g>
<g id="c127r111"><circle cx="740.7" cy="2259.6"/></g><g id="c127r112"><circle cx="740.7" cy="2279.9"/></g><g id="c127r113"><circle cx="740.7" cy="2300.2"/></g><g id="c127r114"><circle cx="740.7" cy="2320.4"/></g>
<g id="c128r111"><circle cx="774" cy="2259.6"/></g><g id="c128r112"><circle cx="774" cy="2279.9"/></g>
<g id="c129r111"><circle cx="807.3" cy="2259.6"/></g><g id="c129r112"><circle cx="807.3" cy="2279.9"/></g>
</g>
</svg>
